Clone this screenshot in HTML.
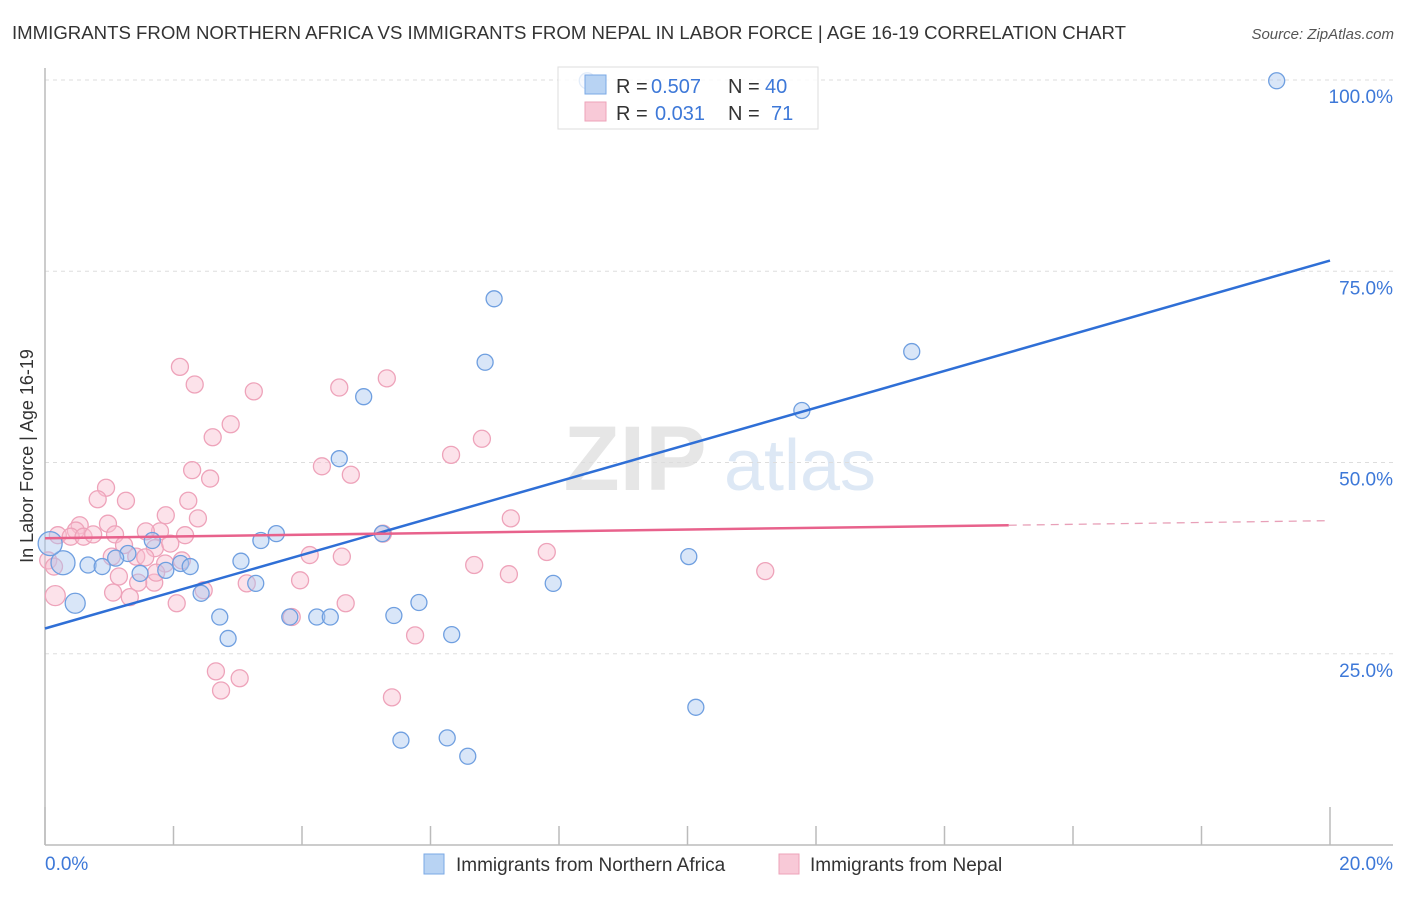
<!DOCTYPE html>
<html><head><meta charset="utf-8">
<style>
body{margin:0;background:#fff;font-family:"Liberation Sans",sans-serif;}
svg text{font-family:"Liberation Sans",sans-serif;}
</style></head>
<body>
<svg id="chart" width="1406" height="892" xmlns="http://www.w3.org/2000/svg">
<text x="12" y="39" font-size="18" fill="#333" textLength="1114" lengthAdjust="spacingAndGlyphs">IMMIGRANTS FROM NORTHERN AFRICA VS IMMIGRANTS FROM NEPAL IN LABOR FORCE | AGE 16-19 CORRELATION CHART</text>
<text x="1394" y="39" font-size="15" fill="#555" text-anchor="end" font-style="italic">Source: ZipAtlas.com</text>
<g>
<text x="635" y="490" font-size="92" fill="#e6e6e6" text-anchor="middle" font-family="Liberation Serif" font-weight="bold">ZIP</text>
<text x="800" y="490" font-size="72" fill="#dde8f5" text-anchor="middle">atlas</text>
</g>
<g id="grid"></g>
<g id="axes"></g>
<g id="pts"></g>
<g id="trends"></g>
<text transform="translate(33,456) rotate(-90)" font-size="18" fill="#333" text-anchor="middle">In Labor Force | Age 16-19</text>
<g>
<rect x="558" y="67" width="260" height="62" fill="#fff" fill-opacity="0.8" stroke="#ddd"/>
<rect x="585" y="75" width="21" height="19" fill="#b8d3f3" stroke="#7aa8e6"/>
<rect x="585" y="102" width="21" height="19" fill="#f8c9d7" stroke="#eea3ba"/>
<text x="616" y="93" font-size="20" fill="#333">R =</text>
<text x="651" y="93" font-size="20" fill="#3d78d8">0.507</text>
<text x="728" y="93" font-size="20" fill="#333">N =</text>
<text x="765" y="93" font-size="20" fill="#3d78d8">40</text>
<text x="616" y="120" font-size="20" fill="#333">R =</text>
<text x="655" y="120" font-size="20" fill="#3d78d8">0.031</text>
<text x="728" y="120" font-size="20" fill="#333">N =</text>
<text x="771" y="120" font-size="20" fill="#3d78d8">71</text>
</g>
<g>
<rect x="424" y="854" width="20" height="20" fill="#b8d3f3" stroke="#7aa8e6"/>
<text x="456" y="871" font-size="19" fill="#333">Immigrants from Northern Africa</text>
<rect x="779" y="854" width="20" height="20" fill="#f8c9d7" stroke="#eea3ba"/>
<text x="810" y="871" font-size="19" fill="#333">Immigrants from Nepal</text>
</g>
</svg>
<script>
const yTicks=[25,50,75,100];
const yTickLabels=["25.0%","50.0%","75.0%","100.0%"];
const xTickLabels=["0.0%","20.0%"];
const blueX=[8.44,19.17,6.99,6.85,13.49,11.78,4.96,4.58,5.25,3.60,3.36,3.05,3.28,2.43,2.72,2.85,3.81,4.23,4.44,5.43,5.82,6.33,5.54,6.26,6.58,7.91,10.02,10.13,1.67,1.29,1.10,0.67,0.89,0.28,0.08,0.47,1.48,1.88,2.11,2.26];
const blueY=[99.9,99.9,71.4,63.1,64.5,56.8,58.6,50.5,40.7,40.7,39.8,37.1,34.2,32.9,29.8,27.0,29.8,29.8,29.8,30.0,31.7,27.5,13.7,14.0,11.6,34.2,37.7,18.0,39.8,38.1,37.5,36.6,36.4,36.9,39.4,31.6,35.5,35.9,36.8,36.4];
const blueR=[8,8,8,8,8,8,8,8,8,8,8,8,8,8,8,8,8,8,8,8,8,8,8,8,8,8,8,8,8,8,8,8,8,12,12,10,8,8,8,8];
const pinkX=[2.10,2.33,3.25,4.58,5.32,2.89,2.61,6.80,6.32,4.31,4.76,2.29,2.57,0.95,0.82,1.26,2.23,1.88,2.38,7.25,1.79,2.18,1.57,0.98,0.54,0.48,0.2,0.4,0.6,0.75,1.09,1.23,1.71,1.95,5.26,4.12,4.62,7.81,1.42,1.04,1.56,0.05,0.14,1.87,2.13,6.68,7.22,11.21,1.15,1.70,1.45,3.97,3.14,2.47,1.06,1.32,0.16,2.05,4.68,3.84,5.76,2.66,3.03,2.74,5.40,1.73];
const pinkY=[62.5,60.2,59.3,59.8,61.0,55.0,53.3,53.1,51.0,49.5,48.4,49.0,47.9,46.7,45.2,45.0,45.0,43.1,42.7,42.7,41.0,40.5,41.0,42.0,41.8,41.1,40.5,40.3,40.3,40.6,40.6,39.2,38.8,39.4,40.7,37.9,37.7,38.3,37.7,37.7,37.6,37.2,36.4,36.8,37.2,36.6,35.4,35.8,35.1,34.3,34.3,34.6,34.2,33.3,33.0,32.4,32.6,31.6,31.6,29.8,27.4,22.7,21.8,20.2,19.3,35.6];
const blueTrend=[[0,28.3],[20,76.4]];
const pinkTrend=[[0,40.1],[15,41.8]];
const pinkTrendDash=[[15,41.8],[20,42.4]];
const X=v=>45+v/20*1285, Y=v=>845-v/100*765;
const NS="http://www.w3.org/2000/svg";
function mk(parent,tag,a){const e=document.createElementNS(NS,tag);for(const k in a)e.setAttribute(k,a[k]);document.getElementById(parent).appendChild(e);return e;}
yTicks.forEach((t,i)=>{
 const l=mk('grid','line',{x1:45,x2:1393,y1:Y(t),y2:Y(t),stroke:'#ddd','stroke-dasharray':'4,4'});
 
 
 const tx=mk('grid','text',{x:1393,y:Y(t)+23,'font-size':19,fill:'#3d78d8','text-anchor':'end'});
 tx.textContent=yTickLabels[i];
 
 
});
let ax=mk('axes','line',{x1:45,x2:1393,y1:845,y2:845,stroke:'#bbb','stroke-width':1.5});


let ay=mk('axes','line',{x1:45,x2:45,y1:68,y2:845,stroke:'#bbb','stroke-width':1.5});


for(let i=0;i<=10;i++){
 const t=mk('axes','line',{x1:X(i*2),x2:X(i*2),y1:(i==0||i==10)?807:826,y2:845,stroke:'#bbb','stroke-width':1.5});
 
 
}
[[0,'start',45],[1,'end',1393]].forEach(([i,anc,x])=>{
 const tx=mk('axes','text',{x:x,y:870,'font-size':19,fill:'#3d78d8','text-anchor':anc});
 tx.textContent=xTickLabels[i];
 
 
});
pinkX.forEach((v,i)=>{
 const c=mk('pts','circle',{cx:X(v),cy:Y(pinkY[i]),r:(i==56?10:8.5),fill:'rgba(248,190,208,0.45)',stroke:'#eea3ba','stroke-width':1.3});
 
 
});
blueX.forEach((v,i)=>{
 const c=mk('pts','circle',{cx:X(v),cy:Y(blueY[i]),r:blueR[i],fill:'rgba(170,200,240,0.45)',stroke:'#6f9fe0','stroke-width':1.3});
 
 
});
let bt=mk('trends','line',{x1:X(blueTrend[0][0]),y1:Y(blueTrend[0][1]),x2:X(blueTrend[1][0]),y2:Y(blueTrend[1][1]),stroke:'#2f6fd6','stroke-width':2.5});


let pt=mk('trends','line',{x1:X(pinkTrend[0][0]),y1:Y(pinkTrend[0][1]),x2:X(pinkTrend[1][0]),y2:Y(pinkTrend[1][1]),stroke:'#e8628c','stroke-width':2.5});


let pd=mk('trends','line',{x1:X(pinkTrendDash[0][0]),y1:Y(pinkTrendDash[0][1]),x2:X(pinkTrendDash[1][0]),y2:Y(pinkTrendDash[1][1]),stroke:'#e8a0b8','stroke-width':1.3,'stroke-dasharray':'8,6'});


</script>
</body></html>
